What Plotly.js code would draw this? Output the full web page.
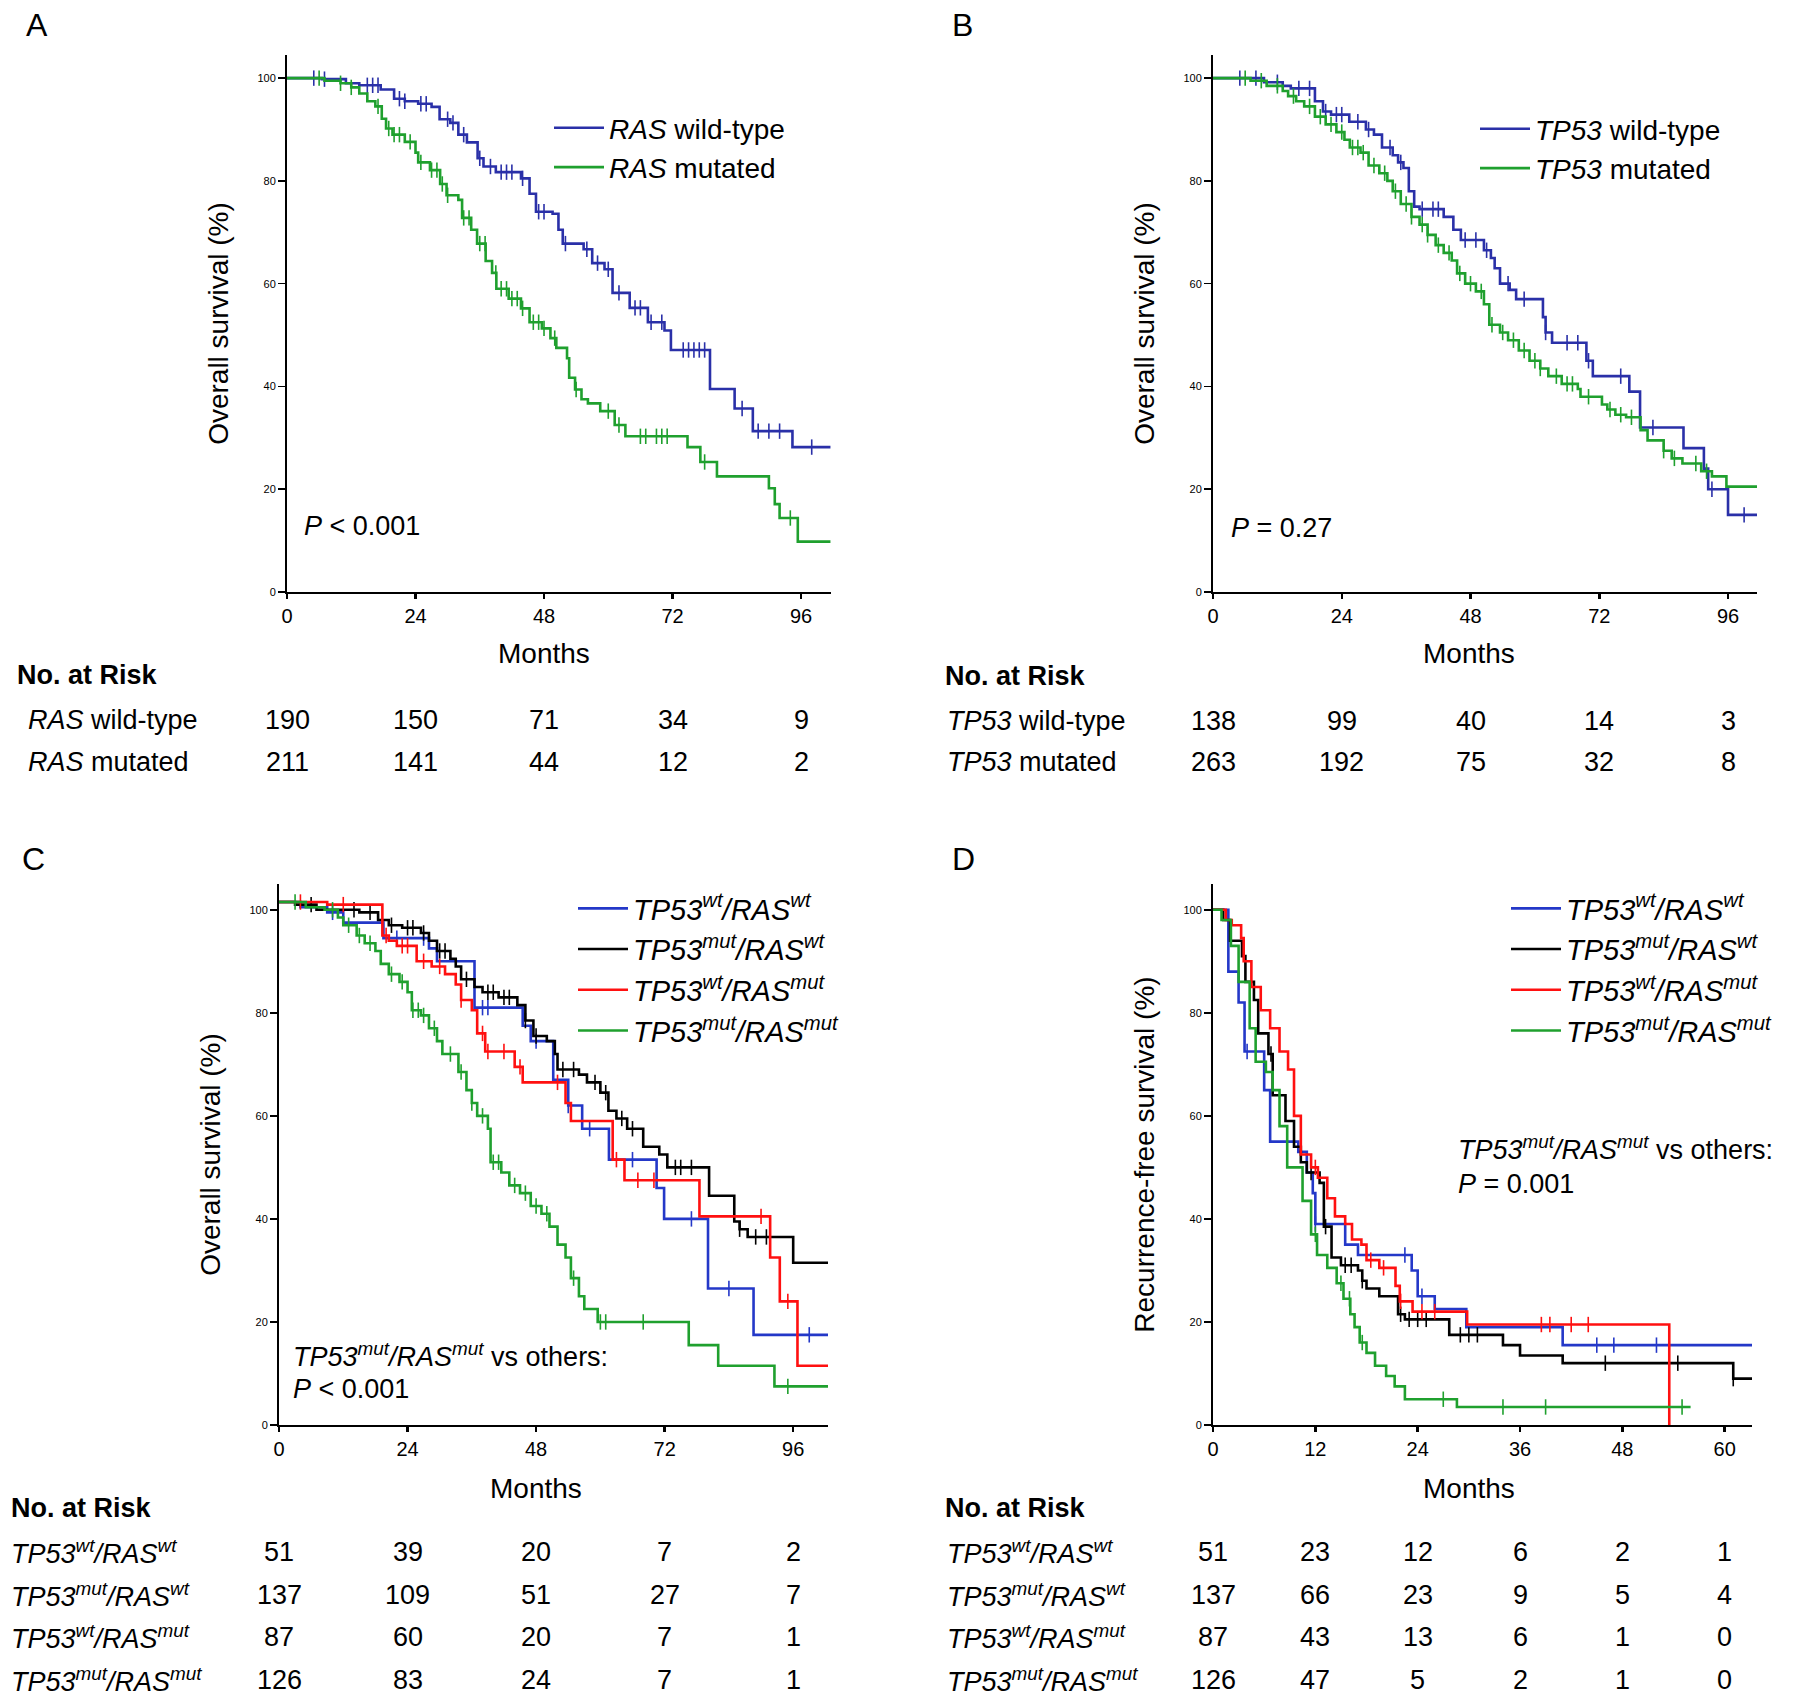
<!DOCTYPE html>
<html>
<head>
<meta charset="utf-8">
<script src="https://cdn.plot.ly/plotly-3.0.1.min.js"></script>
<style>
  body { margin: 0; background: #fff; }
  #chart { width: 1800px; height: 1703px; }
</style>
</head>
<body>
<div id="chart"></div>
<script>
// 生存曲線のデータ (図から読み取った値, 月 / %)
const FONT = "Liberation Sans, Arial, sans-serif";
const BLUE = "#2a30a8";
const BLUE2 = "#2438c8";
const GREEN = "#1fa02e";
const RED = "#ff1010";
const BLACK = "#000000";

// A: RAS
const rasWtT = [0, 6.5, 11, 13.5, 17.5, 20, 22, 24.5, 27, 28.5, 30.5, 32, 33.6, 35.6, 36.7, 39, 43.7, 45.3, 46.5, 49.6, 50.7, 51.5, 55.4, 57, 59.3, 60.8, 64, 67.4, 70.5, 71.7, 79, 83.6, 87, 94.4, 101.5];
const rasWtS = [100, 99.8, 99, 98.6, 97.8, 96, 95.5, 95, 94.4, 92, 91.3, 89, 87.5, 84.4, 82.8, 81.7, 80.5, 77.5, 74, 73.6, 70.5, 67.8, 66.7, 64, 62.8, 58.2, 55.3, 52.5, 50.9, 47.1, 39.5, 35.7, 31.3, 28.2, 28.2];
const rasWtCens = [5, 7, 15, 16, 17, 21, 22, 25, 26, 30, 31, 33, 36, 38, 40, 41, 42, 44, 47, 48, 52, 56, 58, 60, 62, 65, 66, 68, 70, 74, 75, 76, 77, 78, 85, 88, 90, 92, 98];
const rasMutT = [0, 7, 10, 12, 13.5, 15, 16.5, 17.7, 18.5, 19.7, 22, 24, 24.5, 26.7, 28.6, 29.8, 32, 32.7, 34.4, 35.5, 37.1, 38.3, 39.1, 41.4, 43.7, 45.3, 47.6, 49.2, 50.3, 52.3, 52.7, 53.8, 55, 56.2, 58.5, 61.2, 63.2, 74.8, 77.2, 80.3, 90, 91.1, 92, 95.4, 101.5];
const rasMutS = [100, 99.5, 99, 98.2, 97, 95.5, 94.5, 92.1, 90.2, 89, 87.6, 85.5, 83.6, 82.1, 79.4, 77.2, 76.3, 72.8, 70.5, 67.8, 64.4, 62.1, 59, 57.1, 55.2, 52.5, 51.3, 49.4, 47.5, 45.5, 41.7, 39.4, 37.5, 36.7, 35.2, 32.5, 30.3, 28.2, 25.3, 22.5, 20.2, 17.1, 14.4, 9.8, 9.8];
const rasMutCens = [6, 10, 12, 17, 19, 20, 21, 23, 25, 27, 28, 29, 30, 33, 34, 36, 37, 39, 40, 41, 42, 43, 44, 46, 47, 48, 50, 54, 60, 62, 66, 67, 69, 70, 71, 78, 94];

// B: TP53
const tpWtT = [0, 9.5, 13, 14.5, 19, 20.5, 22, 25.4, 28.5, 30, 31.5, 33.5, 34.5, 35.5, 36.5, 37.5, 38.5, 43, 44.8, 46.2, 50.5, 51.8, 52.5, 53.5, 55.3, 56.5, 61.5, 62, 63.2, 69.6, 70.8, 77.6, 79.6, 87.7, 91.5, 92.3, 96, 101.4];
const tpWtS = [100, 99.2, 98.5, 98, 95.5, 93.5, 92.9, 91.5, 90, 89, 86.5, 85, 83.6, 82.5, 78, 75, 74.5, 73, 70.5, 68.5, 66.5, 65, 63, 60, 58.8, 57, 53.5, 50.5, 48.5, 45, 42, 39, 32, 28, 24, 20, 15, 15];
const tpWtCens = [5, 8, 12, 16, 18, 21, 23, 24, 27, 29, 33, 35, 39, 41, 42, 47, 49, 51, 55, 58, 62, 66, 68, 70, 76, 82, 93, 99];
const tpMutT = [0, 7, 10, 13, 14, 15.5, 17, 19, 21, 23, 24.5, 25.5, 27.5, 29, 31, 32.5, 33.5, 35, 37, 38.5, 40, 41.5, 43, 44.5, 45.5, 47, 49, 50.5, 51.5, 53.5, 55, 57, 59, 61, 62.5, 65, 68, 68.5, 72.5, 73.5, 75, 77, 79.7, 81, 84, 85.5, 87.5, 91, 93, 95.7, 101.4];
const tpMutS = [100, 99.5, 98.5, 97.5, 96.5, 95.5, 94.5, 92.5, 91, 89.5, 88, 86.5, 85.5, 83, 81.5, 80, 78, 75.5, 73, 71.5, 69.5, 67.5, 66, 64.5, 62, 60, 58.5, 56, 52, 50.5, 49, 47, 45, 43.5, 42, 40.5, 39.5, 38, 36.5, 35.5, 34.5, 34, 31.5, 29.5, 27.5, 26, 25, 23.5, 22.5, 20.5, 20.5];
const tpMutCens = [6, 9, 12, 15, 18, 20, 22, 24, 26, 27, 28, 30, 32, 34, 36, 37, 39, 40, 42, 44, 46, 48, 50, 52, 54, 56, 58, 60, 61, 64, 66, 67, 70, 74, 76, 78, 84, 86, 90, 92];

// C: OS, 4群
const cWwT = [0, 4, 9, 12, 19.5, 28, 29.5, 36.5, 45.5, 47, 51.2, 54, 56.6, 61.6, 70.5, 71.9, 80.1, 88.6, 102.5];
const cWwS = [101.5, 100.5, 99.5, 97.5, 94.5, 92.5, 90, 81, 77.5, 74.5, 67, 62, 57.5, 51.5, 46, 40, 26.5, 17.5, 17.5];
const cWwCens = [10, 22, 27, 38, 39, 48, 54, 58, 66, 77, 84, 99];
const cMwT = [0, 3, 7, 15, 18.5, 20.5, 23, 26.5, 28, 29.5, 32, 33, 34, 36.5, 38, 41, 44.5, 46, 47.5, 50, 51.5, 52, 56, 57.5, 60, 61.5, 63, 65, 68, 71, 72.5, 80.3, 85, 86, 87.5, 96, 102.5];
const cMwS = [101.5, 101, 100, 99.5, 98, 97, 96.5, 95.5, 94, 92, 90.5, 89, 86.5, 85, 84, 83, 81.5, 78.5, 75.5, 74.5, 72, 69, 68, 66.5, 64.5, 61, 59.5, 57.5, 54, 52.5, 50, 44.5, 39.5, 38, 36.5, 31.5, 31.5];
const cMwCens = [6, 14, 17, 21, 24, 25, 27, 30, 31, 35, 39, 40, 42, 43, 46, 48, 53, 55, 59, 61, 64, 66, 74, 75, 77, 86, 89, 91];
const cWmT = [0, 9, 19.3, 20.5, 22, 25.7, 28.5, 31, 33, 34, 36, 37, 38.5, 44, 45.5, 53.5, 54.5, 62.3, 64.5, 78.5, 91.7, 93.5, 96.8, 102.5];
const cWmS = [101.5, 101, 95, 94, 93, 90, 89, 87.5, 85.5, 82.5, 80.5, 76, 72.5, 69.5, 66.5, 62.5, 59, 51.5, 47.5, 40.5, 32.5, 24, 11.5, 11.5];
const cWmCens = [4, 12, 20, 23, 24, 27, 30, 34, 38, 39, 42, 45, 52, 63, 67, 70, 90, 95];
const cMmT = [0, 5, 8.5, 11, 12, 14.5, 16, 18, 19, 20.5, 22.5, 24, 24.8, 26.5, 28, 29.5, 30.5, 33.5, 35, 36, 37, 39, 39.5, 41.5, 43, 45, 47, 49, 50.5, 52, 53.5, 54.5, 56, 57, 59.5, 76.5, 82, 92.5, 102.5];
const cMmS = [101.5, 100.5, 100, 98.5, 97, 95, 93.5, 92, 89.5, 87.5, 86, 84, 80.5, 79.5, 77, 74.5, 72, 68.5, 65, 62.5, 60, 57.5, 51, 49, 46.5, 45, 42.5, 41, 38.5, 35, 32.5, 28.5, 25, 22.5, 20, 15.5, 11.5, 7.5, 7.5];
const cMmCens = [3, 10, 13, 15, 17, 21, 23, 25, 26, 27, 29, 32, 34, 36, 38, 40, 41, 44, 46, 48, 50, 55, 60, 61, 68, 95];

// D: RFS, 4群
const dWwT = [0, 1.8, 3, 3.7, 6, 6.7, 10, 11, 11.7, 12, 15.5, 17, 23.3, 24, 26, 29.7, 41, 63.2];
const dWwS = [100, 88, 82, 72.5, 65, 55, 53, 49, 45, 39, 35, 33, 30, 25, 22.5, 19, 15.5, 15.5];
const dWwCens = [4, 12, 22.5, 24.5, 45, 47, 52];
const dMwT = [0, 1.2, 2, 3.4, 3.8, 4.8, 5.3, 6.5, 7, 8.5, 9.5, 10.3, 11, 12.5, 13, 13.9, 15, 17, 17.5, 18, 19.5, 21.7, 22.5, 27.7, 34, 36, 41, 61, 63.2];
const dMwS = [100, 98, 94, 91, 86, 82.5, 76, 72, 64, 59, 54, 51, 49, 47, 38.5, 32.5, 31, 30, 28, 26.5, 25, 21.5, 20.5, 17.5, 15.5, 13.5, 12, 9, 9];
const dMwCens = [6.8, 11.5, 13.2, 15.5, 16.2, 17.5, 22, 23, 24, 25, 29, 30, 31, 46, 54.5, 61];
const dWmT = [0, 1.5, 2.2, 3.3, 3.6, 4.5, 5.6, 6.7, 7.8, 8.8, 9.5, 10.3, 11.5, 12.3, 13.4, 14.3, 15.5, 16.3, 17.4, 18, 19.5, 21.4, 21.9, 23.4, 29.8, 53.5];
const dWmS = [100, 98, 97, 94.5, 90, 85, 80.5, 77, 72.5, 69, 60, 52.5, 50, 48, 44, 40.5, 39, 36, 35, 32, 30.5, 27, 24, 22, 19.5, 0];
const dWmCens = [12, 18.5, 20, 22, 24.5, 26, 38.5, 39.5, 42, 44];
const dMmT = [0, 1, 2.1, 3, 4.3, 5, 6.2, 7, 7.8, 8.7, 10.5, 11.5, 12.2, 13.4, 14.5, 15.3, 16.1, 16.6, 17.2, 18, 19, 20.3, 21.3, 22.5, 28.6, 56];
const dMmS = [100, 98, 93, 86, 77, 70.5, 68.5, 65, 58, 50, 43.5, 37, 33, 30.5, 27.5, 24.5, 21.5, 19, 16, 14, 11.5, 9.5, 7.5, 5, 3.5, 3.5];
const dMmCens = [12, 15, 16, 17.5, 27, 34, 39, 55];

// No. at Risk
const riskMonthsAB = [0, 24, 48, 72, 96];
const riskMonthsD = [0, 12, 24, 36, 48, 60];
const rasWtRisk = [190, 150, 71, 34, 9];
const rasMutRisk = [211, 141, 44, 12, 2];
const tpWtRisk = [138, 99, 40, 14, 3];
const tpMutRisk = [263, 192, 75, 32, 8];
const cWwRisk = [51, 39, 20, 7, 2];
const cMwRisk = [137, 109, 51, 27, 7];
const cWmRisk = [87, 60, 20, 7, 1];
const cMmRisk = [126, 83, 24, 7, 1];
const dWwRisk = [51, 23, 12, 6, 2, 1];
const dMwRisk = [137, 66, 23, 9, 5, 4];
const dWmRisk = [87, 43, 13, 6, 1, 0];
const dMmRisk = [126, 47, 5, 2, 1, 0];

// 群名
const rasWtName = "<i>RAS</i> wild-type";
const rasMutName = "<i>RAS</i> mutated";
const tpWtName = "<i>TP53</i> wild-type";
const tpMutName = "<i>TP53</i> mutated";
const wwName = "<i>TP53<sup>wt</sup>/RAS<sup>wt</sup></i>";
const mwName = "<i>TP53<sup>mut</sup>/RAS<sup>wt</sup></i>";
const wmName = "<i>TP53<sup>wt</sup>/RAS<sup>mut</sup></i>";
const mmName = "<i>TP53<sup>mut</sup>/RAS<sup>mut</sup></i>";

const W = 1800, H = 1703;
const px = (v) => v / W;
const py = (v) => 1 - v / H;

// ステップ関数の値
function survAt(t, s, c) {
  let v = s[0];
  for (let i = 0; i < t.length; i++) {
    if (t[i] <= c) v = s[i];
  }
  return v;
}

const data = [];
function addCurve(t, s, cens, color, name, ax, legend) {
  data.push({
    x: t, y: s, mode: "lines", type: "scatter", name: name,
    line: { shape: "hv", color: color, width: 2.6 },
    xaxis: "x" + ax, yaxis: "y" + ax, legend: legend,
  });
  // 打ち切り (+)
  data.push({
    x: cens, y: cens.map(c => survAt(t, s, c)), mode: "markers", type: "scatter",
    marker: { symbol: "line-ns-open", size: 11, color: color, line: { color: color, width: 1.6 } },
    xaxis: "x" + ax, yaxis: "y" + ax, showlegend: false, hoverinfo: "skip",
  });
}

addCurve(rasWtT, rasWtS, rasWtCens, BLUE, rasWtName, "", "legend");
addCurve(rasMutT, rasMutS, rasMutCens, GREEN, rasMutName, "", "legend");
addCurve(tpWtT, tpWtS, tpWtCens, BLUE, tpWtName, "2", "legend2");
addCurve(tpMutT, tpMutS, tpMutCens, GREEN, tpMutName, "2", "legend2");
addCurve(cWwT, cWwS, cWwCens, BLUE2, wwName, "3", "legend3");
addCurve(cMwT, cMwS, cMwCens, BLACK, mwName, "3", "legend3");
addCurve(cWmT, cWmS, cWmCens, RED, wmName, "3", "legend3");
addCurve(cMmT, cMmS, cMmCens, GREEN, mmName, "3", "legend3");
addCurve(dWwT, dWwS, dWwCens, BLUE2, wwName, "4", "legend4");
addCurve(dMwT, dMwS, dMwCens, BLACK, mwName, "4", "legend4");
addCurve(dWmT, dWmS, dWmCens, RED, wmName, "4", "legend4");
addCurve(dMmT, dMmS, dMmCens, GREEN, mmName, "4", "legend4");

// 軸の共通設定
function xAxis(domain, range, dtick, anchor) {
  return {
    domain: domain, range: range, anchor: anchor, dtick: dtick, tick0: 0,
    showline: true, linecolor: "#000", linewidth: 2,
    ticks: "outside", ticklen: 5, tickwidth: 2.5, tickcolor: "#000",
    showgrid: false, zeroline: false,
    tickfont: { size: 20, family: FONT, color: "#000" },
  };
}
function yAxis(domain, range, title, anchor) {
  return {
    domain: domain, range: range, anchor: anchor,
    tickvals: [0, 20, 40, 60, 80, 100],
    showline: true, linecolor: "#000", linewidth: 2,
    ticks: "outside", ticklen: 7, tickwidth: 1.5, tickcolor: "#000",
    showgrid: false, zeroline: false,
    tickfont: { size: 11, family: FONT, color: "#000" },
    title: { text: title, font: { size: 28, family: FONT, color: "#000" }, standoff: 21 },
  };
}

function legendAt(x, y, size) {
  return {
    x: px(x), y: py(y), xanchor: "left", yanchor: "top",
    bgcolor: "rgba(0,0,0,0)", borderwidth: 0, tracegroupgap: 0,
    font: { size: size, family: FONT, color: "#000" },
    itemwidth: 50,
  };
}

const annotations = [];
function text(x, y, t, size, opts) {
  annotations.push(Object.assign({
    xref: "paper", yref: "paper", x: px(x), y: py(y), text: t, showarrow: false,
    xanchor: "left", yanchor: "middle", font: { size: size, family: FONT, color: "#000" },
  }, opts || {}));
}

// パネル記号
text(24, 25, "A", 32);
text(950, 25, "B", 32);
text(20, 859, "C", 32);
text(950, 859, "D", 32);

// x軸タイトル
text(544, 654, "Months", 28, { xanchor: "center" });
text(1469, 654, "Months", 28, { xanchor: "center" });
text(536, 1488, "Months", 28, { xanchor: "center" });
text(1469, 1488, "Months", 28, { xanchor: "center" });

// P値
text(302, 526, "<i>P</i> < 0.001", 27);
text(1229, 528, "<i>P</i> = 0.27", 27);
text(291, 1355, mmName + " vs others:", 27);
text(291, 1389, "<i>P</i> < 0.001", 27);
text(1456, 1148, mmName + " vs others:", 27);
text(1456, 1184, "<i>P</i> = 0.001", 27);

// No. at Risk 表
function riskTable(ax, titleX, labelX, titleY, rowYs, names, rows, months) {
  text(titleX, titleY, "<b>No. at Risk</b>", 27);
  rows.forEach((row, i) => {
    text(labelX, rowYs[i], names[i], 27);
    row.forEach((n, j) => {
      annotations.push({
        xref: ax, yref: "paper", x: months[j], y: py(rowYs[i]), text: String(n),
        showarrow: false, xanchor: "center", yanchor: "middle",
        font: { size: 27, family: FONT, color: "#000" },
      });
    });
  });
}
riskTable("x", 15, 26, 675, [720, 762], [rasWtName, rasMutName], [rasWtRisk, rasMutRisk], riskMonthsAB);
riskTable("x2", 943, 945, 676, [721, 762], [tpWtName, tpMutName], [tpWtRisk, tpMutRisk], riskMonthsAB);
riskTable("x3", 9, 9, 1508, [1552, 1595, 1637, 1680], [wwName, mwName, wmName, mmName], [cWwRisk, cMwRisk, cWmRisk, cMmRisk], riskMonthsAB);
riskTable("x4", 943, 945, 1508, [1552, 1595, 1637, 1680], [wwName, mwName, wmName, mmName], [dWwRisk, dMwRisk, dWmRisk, dMmRisk], riskMonthsD);

const layout = {
  width: W, height: H,
  margin: { l: 0, r: 0, t: 0, b: 0 },
  paper_bgcolor: "#fff", plot_bgcolor: "#fff",
  font: { family: FONT, color: "#000" },
  xaxis: xAxis([px(287), px(831)], [0, 101.6], 24, "y"),
  yaxis: yAxis([py(592), py(55)], [0, 104.5], "Overall survival (%)", "x"),
  xaxis2: xAxis([px(1213), px(1757)], [0, 101.4], 24, "y2"),
  yaxis2: yAxis([py(592), py(55)], [0, 104.5], "Overall survival (%)", "x2"),
  xaxis3: xAxis([px(279), px(828)], [0, 102.5], 24, "y3"),
  yaxis3: yAxis([py(1425), py(884)], [0, 105], "Overall survival (%)", "x3"),
  xaxis4: xAxis([px(1213), px(1752)], [0, 63.2], 12, "y4"),
  yaxis4: yAxis([py(1425), py(884)], [0, 105], "Recurrence-free survival (%)", "x4"),
  legend: legendAt(549, 103, 28),
  legend2: legendAt(1475, 104, 28),
  legend3: legendAt(573, 883, 29),
  legend4: legendAt(1506, 883, 29),
  annotations: annotations,
  showlegend: true,
};

Plotly.newPlot("chart", data, layout, { displayModeBar: false, staticPlot: true });
</script>
</body>
</html>
